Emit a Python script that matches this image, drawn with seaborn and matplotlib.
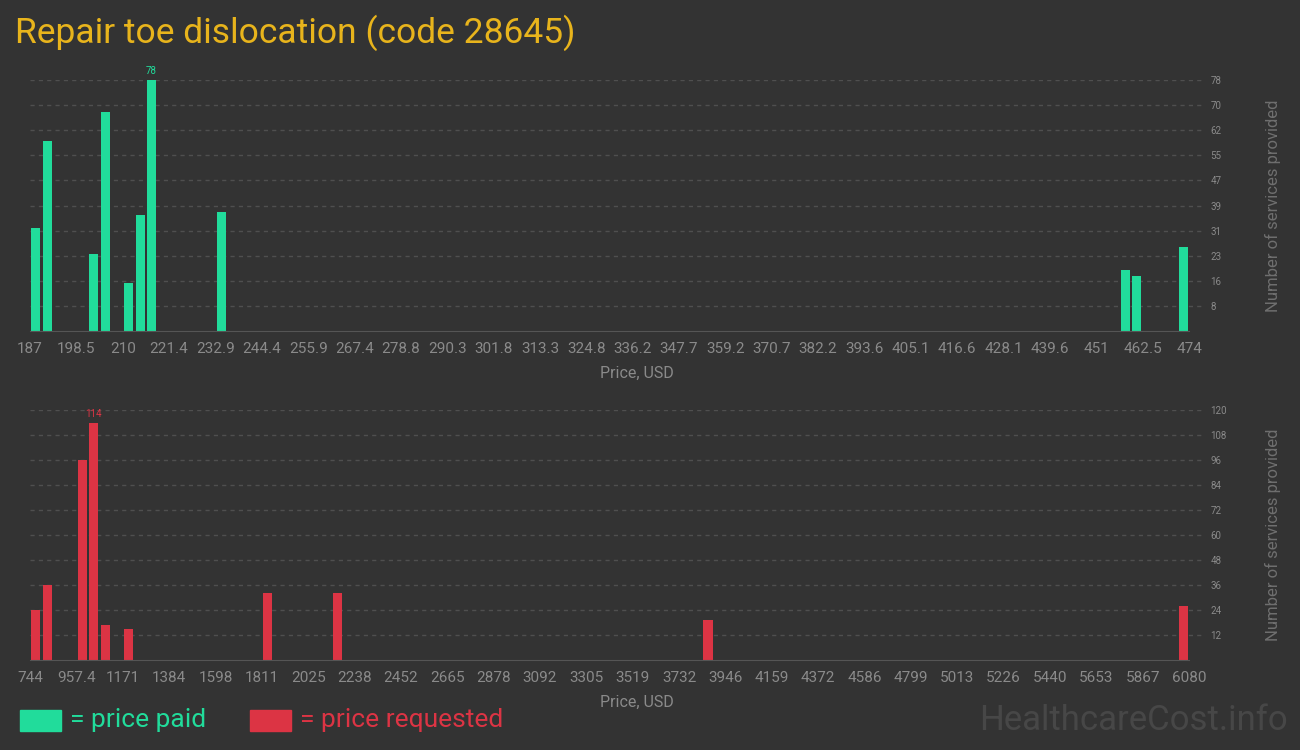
import numpy as np
import pandas as pd
import matplotlib
matplotlib.use("Agg")
import matplotlib.pyplot as plt
from matplotlib.patches import Rectangle
import seaborn as sns

# price paid (top panel): bin centres in USD and number of services
paid_prices = [188.4, 191.3, 202.8, 205.7, 211.4, 214.3, 217.1, 234.4, 458.2, 461.1, 472.6]
paid_counts = [32, 59, 24, 68, 15, 36, 78, 37, 19, 17, 26]
paid_range = (187, 474)
paid_xticklabels = ["187", "198.5", "210", "221.4", "232.9", "244.4", "255.9", "267.4",
                    "278.8", "290.3", "301.8", "313.3", "324.8", "336.2", "347.7", "359.2",
                    "370.7", "382.2", "393.6", "405.1", "416.6", "428.1", "439.6", "451",
                    "462.5", "474"]
paid_yticklabels = ["8", "16", "23", "31", "39", "47", "55", "62", "70", "78"]
paid_ymax = 78

# price requested (bottom panel)
req_prices = [770.7, 824.0, 984.1, 1037.5, 1090.8, 1197.6, 1837.9, 2158.0, 3865.6, 6053.3]
req_counts = [24, 36, 96, 114, 17, 15, 32, 32, 19, 26]
req_range = (744, 6080)
req_xticklabels = ["744", "957.4", "1171", "1384", "1598", "1811", "2025", "2238", "2452",
                   "2665", "2878", "3092", "3305", "3519", "3732", "3946", "4159", "4372",
                   "4586", "4799", "5013", "5226", "5440", "5653", "5867", "6080"]
req_yticklabels = ["12", "24", "36", "48", "60", "72", "84", "96", "108", "120"]
req_ymax = 120

n_bins = 100
bg = "#333333"
green = "#21dc9b"
red = "#dc3444"
gold = "#e8b41c"
grey_txt = "#8a8a8a"

sns.set_style("dark")
plt.rcParams["font.family"] = ["Roboto", "DejaVu Sans"]

fig = plt.figure(figsize=(13, 7.5), dpi=100, facecolor=bg)
W, H = 1300, 750


def px_axes(left, top, right, bottom):
    return fig.add_axes([left / W, 1 - bottom / H, (right - left) / W, (bottom - top) / H])


def panel(ax, prices, counts, rng, xlabels, ylabels, ymax, color):
    ax.set_facecolor(bg)
    sns.histplot(x=prices, weights=counts, bins=n_bins, binrange=rng, shrink=0.78,
                 color=color, alpha=1, linewidth=0, ax=ax)
    lo, hi = rng
    extra = (hi - lo) * 16 / 1159
    ax.set_xlim(lo, hi + extra)
    ax.set_ylim(0, ymax)
    ax.set_xticks(np.linspace(lo, hi, len(xlabels)))
    ax.set_xticklabels(xlabels)
    ax.set_xticks(np.linspace(lo, hi, n_bins + 1), minor=True)
    yt = np.linspace(0, ymax, len(ylabels) + 1)[1:]
    ax.set_yticks(yt)
    ax.set_yticklabels(ylabels)
    ax.yaxis.tick_right()
    ax.tick_params(axis="y", length=0, pad=4, labelsize=7, labelcolor=grey_txt)
    ax.tick_params(axis="x", which="major", length=5, width=1, color="#6a6a6a",
                   direction="out", labelsize=11, labelcolor=grey_txt, pad=3)
    ax.tick_params(axis="x", which="minor", length=3, width=1, color="#5e5e5e",
                   direction="out")
    ax.grid(axis="y", color="#4f4f4f", linestyle=(0, (3, 3)), linewidth=1)
    ax.grid(axis="x", visible=False)
    for s in ["top", "right", "left"]:
        ax.spines[s].set_visible(False)
    ax.spines["bottom"].set_color("#555555")
    ax.spines["bottom"].set_bounds(lo, hi)
    ax.set_xlabel("Price, USD", color=grey_txt, fontsize=11.5)
    ax.xaxis.set_label_coords((637 - 30) / 1175, -0.14)
    ax.yaxis.set_label_position("right")
    ax.set_ylabel("Number of services provided", color="#6f6f6f", fontsize=12)
    ax.yaxis.set_label_coords((1265 - 30) / 1175, 0.5)
    # label over the tallest bar
    i = int(np.argmax(counts))
    ax.text(prices[i], counts[i] + ymax * 0.015, str(counts[i]), color=color,
            fontsize=7, ha="center", va="bottom", clip_on=False)


ax1 = px_axes(30, 80, 1205, 331)
panel(ax1, paid_prices, paid_counts, paid_range, paid_xticklabels, paid_yticklabels,
      paid_ymax, green)
ax2 = px_axes(30, 410, 1205, 660)
panel(ax2, req_prices, req_counts, req_range, req_xticklabels, req_yticklabels,
      req_ymax, red)

fig.text(15 / W, 1 - 33 / H, "Repair toe dislocation (code 28645)", color=gold,
         fontsize=25.5, ha="left", va="center")

# legend
fig.patches.append(Rectangle((20 / W, 1 - 731 / H), 41 / W, 21 / H, color=green,
                             transform=fig.transFigure))
fig.text(70 / W, 1 - 720 / H, "= price paid", color=green, fontsize=19, va="center")
fig.patches.append(Rectangle((250 / W, 1 - 731 / H), 41 / W, 21 / H, color=red,
                             transform=fig.transFigure))
fig.text(300 / W, 1 - 720 / H, "= price requested", color=red, fontsize=19, va="center")

fig.text(1288 / W, 1 - 720 / H, "HealthcareCost.info", color="#474747", fontsize=25,
         ha="right", va="center")

fig.savefig("out.png", dpi=100, facecolor=bg)
